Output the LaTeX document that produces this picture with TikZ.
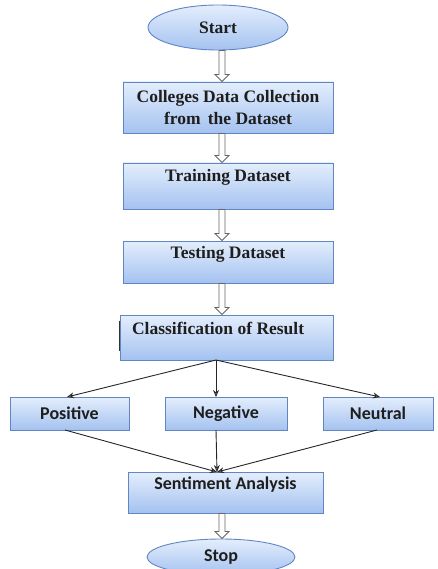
\documentclass[tikz,border=0pt]{standalone}
\usepackage{fontspec}
\setmainfont{Liberation Serif}
\newfontfamily\calib{Carlito}
\usetikzlibrary{arrows.meta,shapes.geometric,calc}
\definecolor{boxtop}{RGB}{228,238,252}
\definecolor{boxbot}{RGB}{164,194,240}
\definecolor{boxline}{RGB}{96,134,196}
\definecolor{txt}{RGB}{30,30,30}
\tikzset{
  flowbox/.style={draw=boxline, line width=0.9pt, top color=boxtop, bottom color=boxbot, inner sep=0pt, text=txt},
  seriffont/.style={font=\fontsize{17.5}{22}\selectfont\bfseries},
  sansfont/.style={font=\calib\fontsize{18}{21}\selectfont\bfseries},
  serifbox/.style={flowbox, seriffont, align=center},
  sansbox/.style={flowbox, sansfont},
  term/.style={flowbox, ellipse},
  hollow/.style={draw=black!60, line width=0.8pt, fill=white},
  thinarrow/.style={draw=black!85, line width=0.9pt, -{Stealth[length=7pt,width=6pt,open]}},
  boxlabel/.style={anchor=center, text=txt}
}
\newcommand\hollowdown[2]{%
  \path[hollow] let \p1=(#1), \p2=(#2) in
    (\x1-3pt,\y1) -- (\x1-3pt,\y2+7pt) -- (\x1-7pt,\y2+7pt) -- (\x1,\y2) --
    (\x1+7pt,\y2+7pt) -- (\x1+3pt,\y2+7pt) -- (\x1+3pt,\y1) -- cycle;}
\begin{document}
\begin{tikzpicture}[x=1pt,y=-1pt]
\useasboundingbox (0,0) rectangle (437,569);
\node[term, seriffont, minimum width=140pt, minimum height=45pt] (start) at (218,27.5) {Start};
\node[serifbox, minimum width=210pt, minimum height=51pt] (collect) at (228,107.5) {Colleges Data Collection\\ from\, the Dataset};
\node[serifbox, minimum width=210pt, minimum height=46pt,
  label={[boxlabel, seriffont, yshift=-15pt]north:Training Dataset}] (train) at (228,186) {};
\node[serifbox, minimum width=210pt, minimum height=42pt,
  label={[boxlabel, seriffont, yshift=-14pt]north:Testing Dataset}] (test) at (228,262) {};
\node[serifbox, minimum width=213pt, minimum height=45pt,
  label={[boxlabel, anchor=west, seriffont, xshift=9pt, yshift=-14pt]north west:Classification of Result}] (classify) at (226.5,337.5) {};
\draw[black!80, line width=1pt] ([yshift=-6pt]classify.north west) -- ([yshift=9pt]classify.south west);
\node[sansbox, minimum width=119pt, minimum height=33pt] (pos) at (69.5,413.5) {Positive};
\node[sansbox, minimum width=122pt, minimum height=33pt] (neg) at (226,413.5) {Negative};
\node[sansbox, minimum width=110pt, minimum height=33pt] (neu) at (378,413.5) {Neutral};
\node[sansbox, minimum width=195pt, minimum height=41pt,
  label={[boxlabel, sansfont, yshift=-13pt]north:Sentiment Analysis}] (sent) at (225.5,492.5) {};
\node[term, sansfont, minimum width=148pt, minimum height=36pt] (stop) at (221,557) {\raisebox{3pt}{Stop}};
\coordinate (ax) at (222,0);
\hollowdown{ax |- start.south}{ax |- collect.north}
\hollowdown{ax |- collect.south}{ax |- train.north}
\hollowdown{ax |- train.south}{ax |- test.north}
\hollowdown{ax |- test.south}{ax |- classify.north}
\hollowdown{ax |- sent.south}{ax |- stop.north}
\coordinate (split) at (216,360);
\coordinate (join) at (217,472);
\draw[thinarrow] (split) -- (67,397);
\draw[thinarrow] (split) -- (216,397);
\draw[thinarrow] (split) -- (380,397);
\draw[thinarrow] (65,430) -- (join);
\draw[thinarrow] (216,430) -- (join);
\draw[thinarrow] (377,430) -- (join);
\end{tikzpicture}
\end{document}
